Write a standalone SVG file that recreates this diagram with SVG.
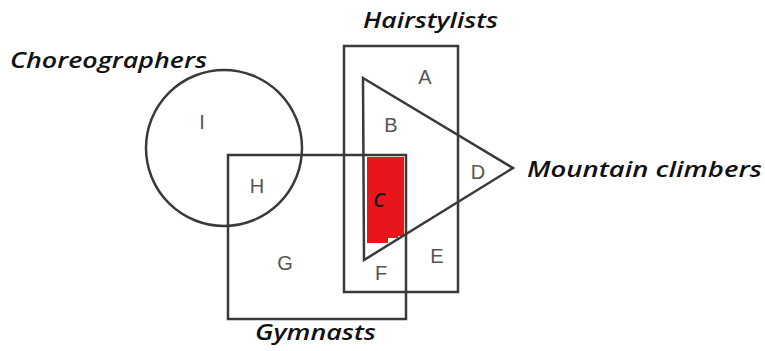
<svg xmlns="http://www.w3.org/2000/svg" width="765" height="351" viewBox="0 0 765 351">
<style>
.shape{fill:none;stroke:#3a3a3a;stroke-width:2.5}
.lbl{font-family:"Liberation Sans",Arial,sans-serif;font-size:20px;fill:#555;text-anchor:middle}
.title{font-family:"Open Sans","DejaVu Sans",sans-serif;font-style:italic;font-weight:600;font-size:22px;fill:#111}
</style>
<rect width="765" height="351" fill="#fff"/>
<g id="red-region">
<path d="M367,157 L404,157 L404,236 L398,236 L398,238 L388,238 L388,243 L367,243 Z" fill="#e8151b"/>
</g>
<g id="connectors">
<g id="choreographers"><circle class="shape" cx="224" cy="148" r="78"/></g>
<g id="gymnasts"><rect class="shape" x="228" y="155" width="178" height="164"/></g>
<g id="hairstylists"><rect class="shape" x="344" y="46" width="114" height="246"/></g>
<g id="mountain-climbers"><polygon class="shape" points="363,78 513,168 364,260"/></g>
</g>
<g id="region-labels">
<text class="lbl" x="202" y="129">I</text>
<text class="lbl" x="257" y="193">H</text>
<text class="lbl" x="285" y="270">G</text>
<text class="lbl" x="425" y="84">A</text>
<text class="lbl" x="391" y="132">B</text>
<text x="379" y="207" font-family="Open Sans,DejaVu Sans,sans-serif" font-style="italic" font-weight="600" font-size="19" fill="#111" text-anchor="middle">C</text>
<text class="lbl" x="478" y="179">D</text>
<text class="lbl" x="437" y="263">E</text>
<text class="lbl" x="381" y="280">F</text>
</g>
<g id="titles">
<text class="title" x="10" y="68" textLength="197" lengthAdjust="spacingAndGlyphs">Choreographers</text>
<text class="title" x="363" y="28" textLength="135" lengthAdjust="spacingAndGlyphs">Hairstylists</text>
<text class="title" x="527" y="177" textLength="235" lengthAdjust="spacingAndGlyphs">Mountain climbers</text>
<text class="title" x="255" y="340" textLength="121" lengthAdjust="spacingAndGlyphs">Gymnasts</text>
</g>
</svg>
